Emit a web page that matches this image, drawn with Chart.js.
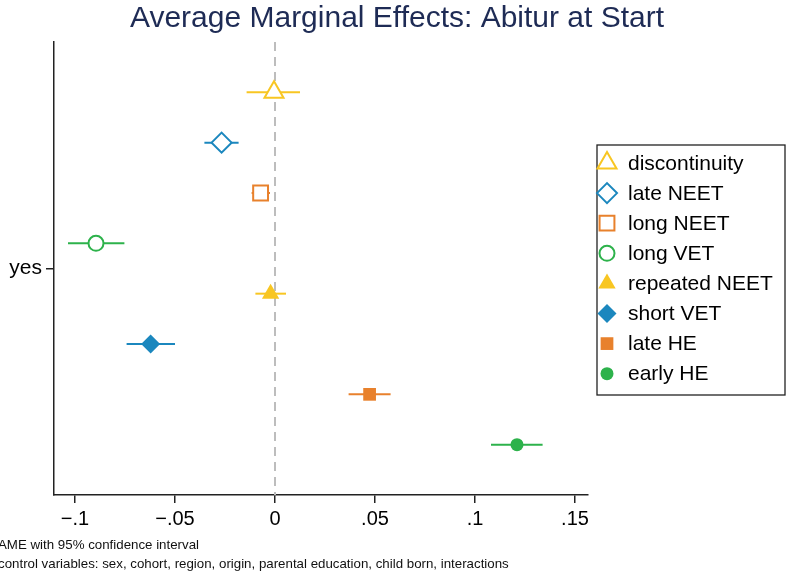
<!DOCTYPE html>
<html>
<head>
<meta charset="utf-8">
<script src="https://cdn.jsdelivr.net/npm/chart.js@4/dist/chart.umd.min.js"></script>
<style>
  html, body { margin: 0; padding: 0; background: #fff; }
  #wrap { width: 786px; height: 578px; }
</style>
</head>
<body>
<div id="wrap"><canvas id="chart" width="786" height="578"></canvas></div>
<script>
// data
const categories = ['discontinuity', 'late NEET', 'long NEET', 'long VET', 'repeated NEET', 'short VET', 'late HE', 'early HE'];
const estimates  = [-0.0005, -0.0267, -0.0072, -0.0895, -0.0022, -0.0622, 0.0473, 0.1210];
const lowerCI    = [-0.0142, -0.0353, -0.0117, -0.1035, -0.0098, -0.0742, 0.0368, 0.1080];
const upperCI    = [ 0.0125, -0.0182, -0.0025, -0.0753,  0.0055, -0.0500, 0.0578, 0.1338];
const tickValues = [-0.1, -0.05, 0, 0.05, 0.1, 0.15];
const tickLabels = ['\u2212.1', '\u2212.05', '0', '.05', '.1', '.15'];
const yLabel = 'yes';

const titleText = 'Average Marginal Effects: Abitur at Start';
const notes = ['AME with 95% confidence interval',
  'control variables: sex, cohort, region, origin, parental education, child born, interactions'];

// marker looks
const YEL = '#F8C622', BLU = '#1B87BE', ORA = '#E8812C', GRN = '#2DB24B';
const markers = [
  { color: YEL, style: 'triangle', hollow: true,  r: 11 },
  { color: BLU, style: 'rectRot',  hollow: true,  r: 10 },
  { color: ORA, style: 'rect',     hollow: true,  r: 10.5 },
  { color: GRN, style: 'circle',   hollow: true,  r: 7.5 },
  { color: YEL, style: 'triangle', hollow: false, r: 10 },
  { color: BLU, style: 'rectRot',  hollow: false, r: 9.5 },
  { color: ORA, style: 'rect',     hollow: false, r: 9 },
  { color: GRN, style: 'circle',   hollow: false, r: 6.5 }
];
const FONT = "'Liberation Sans', Arial, Helvetica, sans-serif";

const datasets = [];
// dashed zero line
datasets.push({
  data: [{ x: 0, y: 0 }, { x: 0, y: 9 }],
  showLine: true, borderColor: '#BDBDBD', borderWidth: 2, borderDash: [9, 6],
  pointRadius: 0, order: 3
});
categories.forEach((c, i) => {
  const m = markers[i];
  datasets.push({
    label: c + ' CI',
    data: [{ x: lowerCI[i], y: i + 1 }, { x: upperCI[i], y: i + 1 }],
    showLine: true, borderColor: m.color, borderWidth: 2, pointRadius: 0, order: 2
  });
  datasets.push({
    label: c,
    data: [{ x: estimates[i], y: i + 1 }],
    pointStyle: m.style, pointRadius: m.r, pointBorderWidth: m.hollow ? 2 : 0,
    pointBackgroundColor: m.hollow ? '#fff' : m.color, pointBorderColor: m.color,
    order: 1
  });
});

const decor = {
  id: 'decor',
  afterDraw(chart) {
    const ctx = chart.ctx;
    ctx.save();
    // title
    ctx.fillStyle = '#1E2B55';
    ctx.font = '30px ' + FONT;
    ctx.textAlign = 'center';
    ctx.textBaseline = 'middle';
    ctx.fillText(titleText, 397, 19);
    // notes
    ctx.fillStyle = '#111';
    ctx.font = '13.3px ' + FONT;
    ctx.textAlign = 'left';
    ctx.fillText(notes[0], -2, 545);
    ctx.fillText(notes[1], -2, 564);
    // legend box
    ctx.strokeStyle = '#222';
    ctx.lineWidth = 1.3;
    ctx.strokeRect(597, 145, 188, 250);
    ctx.font = '21px ' + FONT;
    categories.forEach((c, i) => {
      const m = markers[i];
      const y = 163 + i * 30.1;
      ctx.fillStyle = m.hollow ? '#fff' : m.color;
      ctx.strokeStyle = m.color;
      ctx.lineWidth = 2;
      Chart.helpers.drawPoint(ctx, { pointStyle: m.style, radius: m.r, borderWidth: m.hollow ? 2 : 0, rotation: 0 }, 607, y);
      ctx.fillStyle = '#000';
      ctx.fillText(c, 628, y + 1);
    });
    ctx.restore();
  }
};

new Chart(document.getElementById('chart'), {
  type: 'scatter',
  data: { datasets },
  options: {
    responsive: false,
    animation: false,
    layout: { padding: { top: 42, right: 198, bottom: 0, left: 0 } },
    plugins: { legend: { display: false }, tooltip: { enabled: false } },
    scales: {
      x: {
        type: 'linear', min: -0.1105, max: 0.1565,
        afterBuildTicks: s => { s.ticks = tickValues.map(v => ({ value: v })); },
        afterFit: s => { s.height = 83; },
        ticks: { callback: (v, i) => tickLabels[i], font: { family: FONT, size: 20 }, color: '#000', padding: 4, maxRotation: 0 },
        grid: { drawOnChartArea: false, tickLength: 8, color: '#222', lineWidth: 1.5 },
        border: { display: true, color: '#222', width: 1.5 }
      },
      y: {
        type: 'linear', min: 0, max: 9, reverse: true,
        afterBuildTicks: s => { s.ticks = [{ value: 4.5 }]; },
        afterFit: s => { s.width = 54; },
        ticks: { callback: () => yLabel, font: { family: FONT, size: 21 }, color: '#000', padding: 4 },
        grid: { drawOnChartArea: false, tickLength: 8, color: '#222', lineWidth: 1.5 },
        border: { display: true, color: '#222', width: 1.5 }
      }
    }
  },
  plugins: [decor]
});
</script>
</body>
</html>
